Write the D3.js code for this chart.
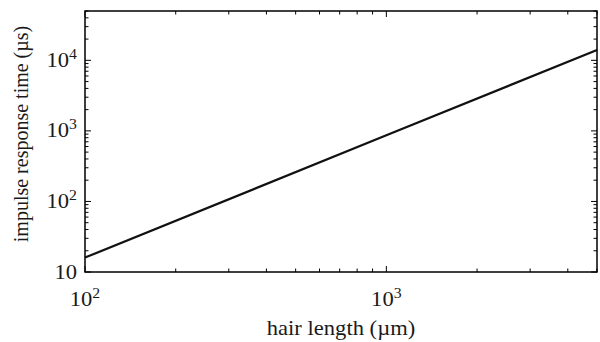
<!DOCTYPE html>
<html>
<head>
<meta charset="utf-8">
<script src="https://cdn.jsdelivr.net/npm/d3@7"></script>
<style>
  body { margin: 0; background: #fff; }
  svg { display: block; font-family: "Liberation Serif", "Times New Roman", serif; }
</style>
</head>
<body>
<svg id="chart" width="600" height="342"></svg>
<script>
// values
const hairLength = [100, 1000, 5000];        // µm
const responseTime = [16, 865, 14000];       // µs
const xDomain = [100, 5000];
const yDomain = [10, 50000];
const xMajor = [100, 1000];
const yMajor = [10, 100, 1000, 10000];
const yLabels = ["10", "10^2", "10^3", "10^4"];
const xLabels = ["10^2", "10^3"];

const width = 600, height = 342;
const margin = { top: 11, right: 3, bottom: 70, left: 85 };
// the source figure looks a bit stretched sideways, so horizontal text is widened
const stretch = 1.13;

const svg = d3.select("#chart");

const x = d3.scaleLog().domain(xDomain).range([margin.left, width - margin.right]);
const y = d3.scaleLog().domain(yDomain).range([height - margin.bottom, margin.top]);

const x0 = x.range()[0], x1 = x.range()[1];
const y0 = y.range()[0], y1 = y.range()[1];

const isMajor = t => Math.abs(Math.log10(t) - Math.round(Math.log10(t))) < 1e-9;

// inward ticks on all four sides
const tickG = svg.append("g").attr("stroke", "#000").attr("stroke-width", 1);

x.ticks().forEach(t => {
  const len = isMajor(t) ? 6 : 3.5;
  const px = x(t);
  tickG.append("line").attr("x1", px).attr("x2", px).attr("y1", y0).attr("y2", y0 - len);
  tickG.append("line").attr("x1", px).attr("x2", px).attr("y1", y1).attr("y2", y1 + len);
});
y.ticks().forEach(t => {
  const len = isMajor(t) ? 6 : 3.5;
  const py = y(t);
  tickG.append("line").attr("x1", x0).attr("x2", x0 + len).attr("y1", py).attr("y2", py);
  tickG.append("line").attr("x1", x1).attr("x2", x1 - len).attr("y1", py).attr("y2", py);
});

// data line
const line = d3.line()
  .x((d, i) => x(hairLength[i]))
  .y((d, i) => y(responseTime[i]));

svg.append("path")
  .datum(hairLength)
  .attr("d", line)
  .attr("fill", "none")
  .attr("stroke", "#111")
  .attr("stroke-width", 2.2);

// frame
svg.append("rect")
  .attr("x", x0).attr("y", y1)
  .attr("width", x1 - x0).attr("height", y0 - y1)
  .attr("fill", "none")
  .attr("stroke", "#000")
  .attr("stroke-width", 1.5);

// tick labels with superscripts
const addPow = (sel, label) => {
  const parts = label.split("^");
  sel.append("tspan").text(parts[0]);
  if (parts[1]) {
    sel.append("tspan").attr("dy", -8).attr("font-size", 14).text(parts[1]);
  }
};

xMajor.forEach((t, i) => {
  const txt = svg.append("text")
    .attr("transform", `translate(${x(t)},${y0 + 34}) scale(${stretch},1)`)
    .attr("text-anchor", "middle")
    .attr("font-size", 20)
    .attr("fill", "#1a1a1a");
  addPow(txt, xLabels[i]);
});

yMajor.forEach((t, i) => {
  const txt = svg.append("text")
    .attr("transform", `translate(${x0 - 8},${y(t) + 6.5}) scale(${stretch},1)`)
    .attr("text-anchor", "end")
    .attr("font-size", 20)
    .attr("fill", "#1a1a1a");
  addPow(txt, yLabels[i]);
});

// axis titles
svg.append("text")
  .attr("transform", `translate(${(x0 + x1) / 2},335) scale(${stretch},1)`)
  .attr("text-anchor", "middle")
  .attr("font-size", 20)
  .attr("fill", "#1a1a1a")
  .text("hair length (µm)");

svg.append("text")
  .attr("transform", `translate(28,134) rotate(-90)`)
  .attr("text-anchor", "middle")
  .attr("font-size", 20)
  .attr("fill", "#1a1a1a")
  .text("impulse response time (µs)");
</script>
</body>
</html>
